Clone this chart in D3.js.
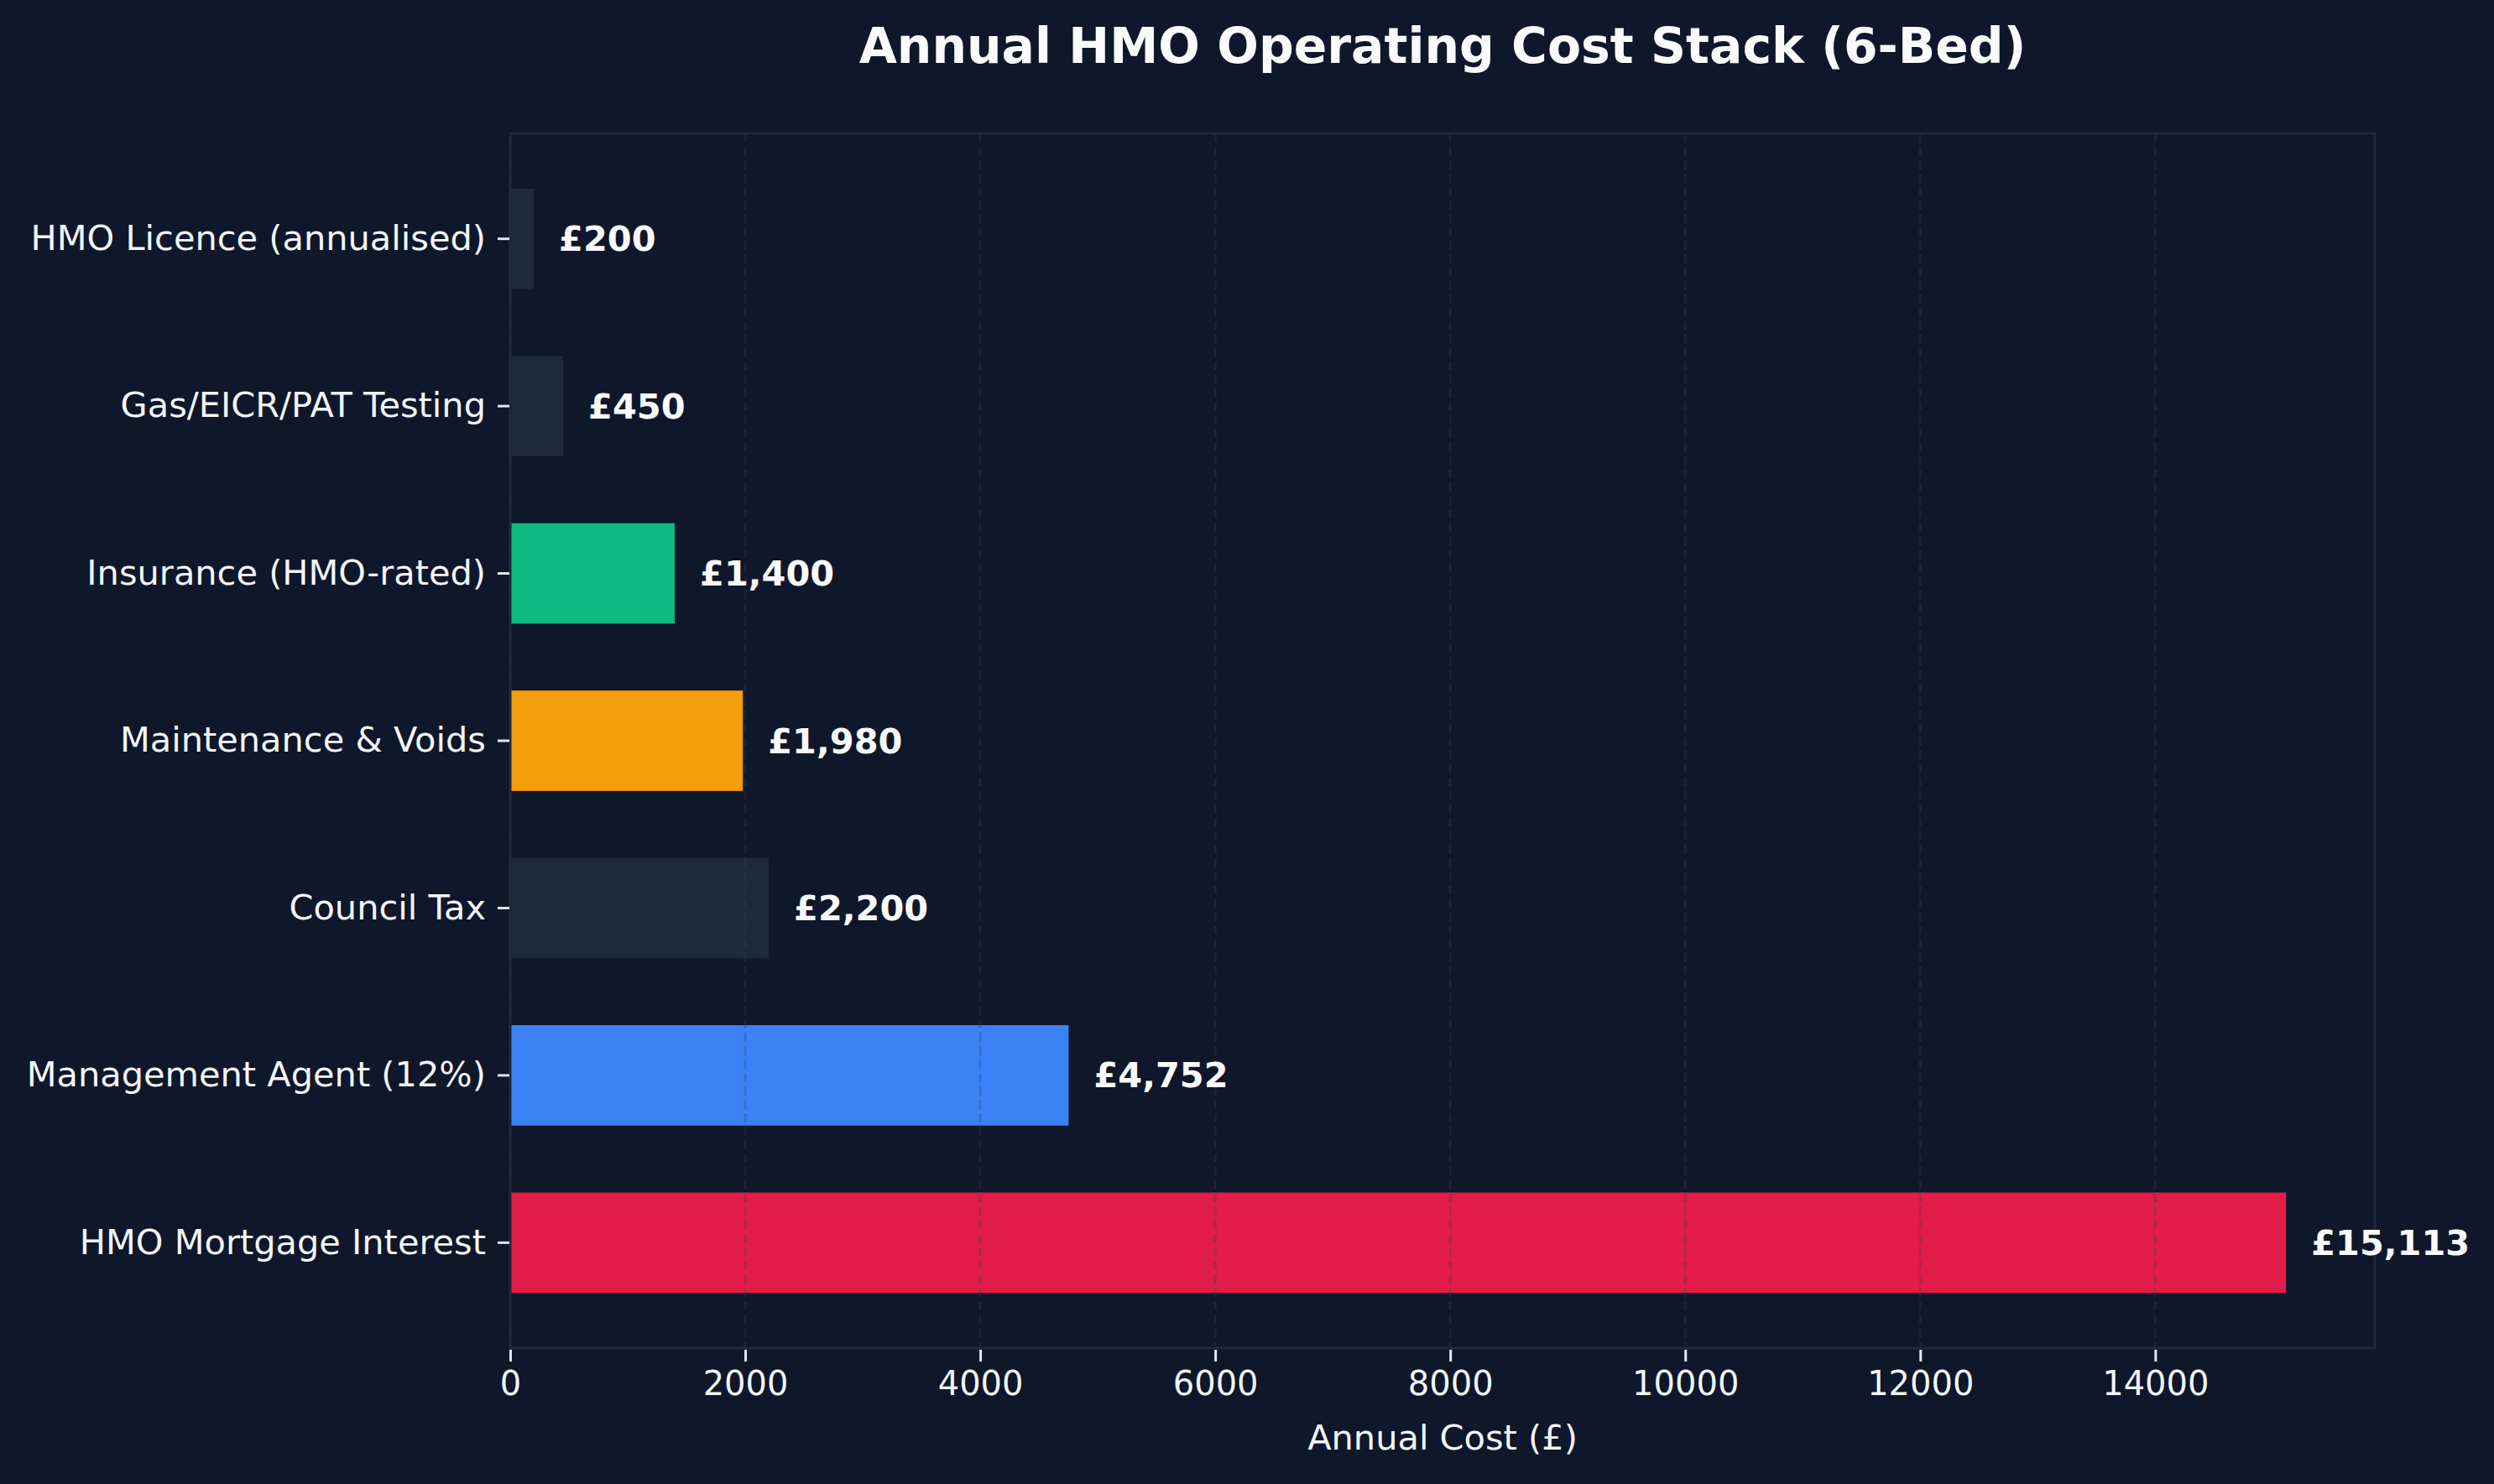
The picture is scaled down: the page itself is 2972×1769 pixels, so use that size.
<!DOCTYPE html>
<html>
<head>
<meta charset="utf-8">
<script src="https://cdn.jsdelivr.net/npm/d3@7"></script>
<style>
  html, body { margin: 0; padding: 0; background: #0f172a; }
  svg { display: block; }
  text { font-family: "DejaVu Sans", sans-serif; }
</style>
</head>
<body>
<svg id="chart" width="2972" height="1769"></svg>
<script>
const categories = [
  "HMO Licence (annualised)",
  "Gas/EICR/PAT Testing",
  "Insurance (HMO-rated)",
  "Maintenance & Voids",
  "Council Tax",
  "Management Agent (12%)",
  "HMO Mortgage Interest"
];
const costs = [200, 450, 1400, 1980, 2200, 4752, 15113];
const barColors = ["#1e293b", "#1e293b", "#10b981", "#f59e0b", "#1e293b", "#3b82f6", "#e11d48"];
const xTicks = [0, 2000, 4000, 6000, 8000, 10000, 12000, 14000];
const titleText = "Annual HMO Operating Cost Stack (6-Bed)";
const xLabelText = "Annual Cost (£)";

const W = 2972, H = 1769;
const m = { left: 608, right: 2830, top: 159, bottom: 1607 };

const svg = d3.select("#chart");
svg.append("rect").attr("width", W).attr("height", H).attr("fill", "#0f172a");

const x = d3.scaleLinear().domain([0, d3.max(costs) * 1.05]).range([m.left, m.right]);
const y = d3.scaleBand().domain(categories).range([m.top, m.bottom])
  .paddingInner(0.4).paddingOuter(0.33);

const data = categories.map((c, i) => ({ cat: c, v: costs[i], color: barColors[i] }));

// bars
svg.append("g").selectAll("rect").data(data).enter().append("rect")
  .attr("x", x(0))
  .attr("y", d => y(d.cat))
  .attr("width", d => x(d.v) - x(0))
  .attr("height", y.bandwidth())
  .attr("fill", d => d.color);

// grid (drawn above bars)
svg.append("g").selectAll("line").data(xTicks).enter().append("line")
  .attr("x1", d => x(d)).attr("x2", d => x(d))
  .attr("y1", m.top).attr("y2", m.bottom)
  .attr("stroke", "#334155").attr("stroke-opacity", 0.3)
  .attr("stroke-width", 2.8).attr("stroke-dasharray", "11,5");

// spines
svg.append("rect")
  .attr("x", m.left).attr("y", m.top)
  .attr("width", m.right - m.left).attr("height", m.bottom - m.top)
  .attr("fill", "none").attr("stroke", "#1e293b").attr("stroke-width", 3);

// x axis
const xAxis = d3.axisBottom(x).tickValues(xTicks).tickFormat(d3.format("d"))
  .tickSize(14).tickPadding(12);
const gx = svg.append("g").attr("transform", `translate(0,${m.bottom + 2})`).call(xAxis);
gx.select(".domain").remove();
gx.selectAll(".tick line").attr("stroke", "#e2e8f0").attr("stroke-width", 3);
gx.selectAll(".tick text").attr("fill", "#f1f5f9").attr("font-size", 40)
  .attr("font-family", "DejaVu Sans").attr("dy", "0.71em");

// y axis
const yAxis = d3.axisLeft(y).tickSize(14).tickPadding(14);
const gy = svg.append("g").attr("transform", `translate(${m.left - 1},0)`).call(yAxis);
gy.select(".domain").remove();
gy.selectAll(".tick line").attr("stroke", "#e2e8f0").attr("stroke-width", 3);
gy.selectAll(".tick text").attr("fill", "#f1f5f9").attr("font-size", 41.5)
  .attr("font-family", "DejaVu Sans");

// value labels
const fmt = d3.format(",");
svg.append("g").selectAll("text").data(data).enter().append("text")
  .attr("x", d => x(d.v) + 30)
  .attr("y", d => y(d.cat) + y.bandwidth() / 2)
  .attr("dy", "0.35em")
  .attr("fill", "#f8fafc")
  .attr("font-size", 41.5)
  .attr("font-weight", "bold")
  .text(d => "£" + fmt(d.v));

// title
svg.append("text")
  .attr("x", (m.left + m.right) / 2).attr("y", 75)
  .attr("text-anchor", "middle")
  .attr("fill", "#f8fafc").attr("font-size", 58.4).attr("font-weight", "bold")
  .text(titleText);

// x label
svg.append("text")
  .attr("x", (m.left + m.right) / 2).attr("y", 1728)
  .attr("text-anchor", "middle")
  .attr("fill", "#f1f5f9").attr("font-size", 41.5)
  .text(xLabelText);
</script>
</body>
</html>
